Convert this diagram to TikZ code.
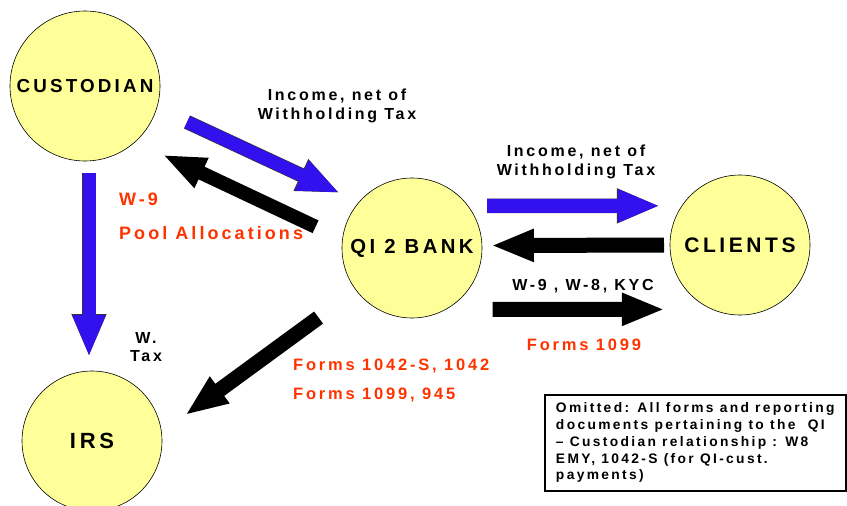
\documentclass[tikz,border=0pt]{standalone}
\usepackage{fontspec}
\setmainfont{Liberation Sans}[LetterSpace=17]
\usepackage{xcolor}
\usetikzlibrary{arrows.meta,positioning}
\definecolor{qiYellow}{HTML}{FFFF99}
\definecolor{qiBlue}{HTML}{3311EE}
\definecolor{qiRed}{HTML}{FF3300}
\definecolor{qiEdge}{HTML}{333333}

\begin{document}
\begin{tikzpicture}[
  x=1pt, y=-1pt,
  party/.style={circle, draw=black, line width=0.6pt, fill=qiYellow, inner sep=0pt, outer sep=0pt, minimum size=140pt},
  flow/.style={font=\bfseries\fontsize{16}{18.7}\selectfont, align=center, inner sep=0pt},
  form/.style={font=\bfseries\fontsize{16.5}{19}\selectfont, text=qiRed, inner sep=0pt, anchor=base west},
  money/.style={draw=qiBlue, line width=13pt, -{Triangle[length=42pt, width=30pt]}, preaction={draw=qiEdge, line width=14.4pt, -{Triangle[length=43pt, width=31.6pt]}}},
  paper/.style={draw=black, line width=15pt, -{Triangle[length=43pt, width=30pt]}}
]
\useasboundingbox (0,0) rectangle (847,506);
\clip (0,0) rectangle (847,506);

% parties
\node[party, minimum size=150pt, font=\bfseries\fontsize{18.8}{20}\selectfont] (custodian) at (85,86) {CUSTODIAN};
\node[party, font=\bfseries\fontsize{20.3}{22}\selectfont] (qibank) at (412,248) {QI 2 BANK};
\node[party, font=\bfseries\fontsize{21}{23}\selectfont] (clients) at (740,245) {CLIENTS};
\node[party, font=\bfseries\fontsize{22}{24}\selectfont] (irs) at (92,441) {IRS};

% labels
\node[flow] (income1) at (337,106) {Income, net of\\Withholding Tax};
\node[flow] (income2) at (576,162) {Income, net of\\Withholding Tax};
\node[flow, anchor=base] (kyc) at (583,290) {W-9 , W-8, KYC};
\node[flow] (wtax) at (146,347) {W.\\Tax};
\node[form, font=\bfseries\fontsize{18}{20}\selectfont] (w9) at (119,205) {W-9};
\node[form, font=\bfseries\fontsize{18}{20}\selectfont] (pool) at (119,239) {Pool Allocations};
\node[form, anchor=base] (f1099) at (584,350) {Forms 1099};
\node[form] (f1042) at (293,370) {Forms 1042-S, 1042};
\node[form] (f945) at (293,399) {Forms 1099, 945};

% note box
\node[draw, line width=1.5pt, anchor=north west, align=left, inner xsep=11pt, inner ysep=8pt,
  minimum width=301pt, minimum height=96pt, font=\bfseries\fontsize{13.8}{16.7}\selectfont] (omitted) at (544,394)
  {Omitted: All forms and reporting\\documents pertaining to the~~QI\\-- Custodian relationship : W8\\EMY, 1042-S (for QI-cust.\\payments)};

% flows
\draw[money, shorten <=33.5pt, shorten >=21.3pt] (custodian.-17) -- (qibank.139);
\draw[paper, line width=14pt, shorten <=29.8pt, shorten >=30.4pt] (qibank.173) -- (custodian.-48);
\draw[money, shorten <=12pt, shorten >=14pt] ([xshift=4pt]custodian.south) -- ([xshift=-3pt]irs.north);
\draw[money, line width=14pt, shorten <=19.1pt, shorten >=22pt] (qibank.37) -- (clients.146);
\draw[paper, shorten <=6pt, shorten >=9pt] (clients.west) -- (qibank.2);
\draw[paper, shorten <=46.6pt, shorten >=47.8pt] (qibank.-61.5) -- (clients.-113);
\draw[paper, shorten <=46.5pt, shorten >=29.2pt] (qibank.-143) -- (irs.7);
\end{tikzpicture}
\end{document}
